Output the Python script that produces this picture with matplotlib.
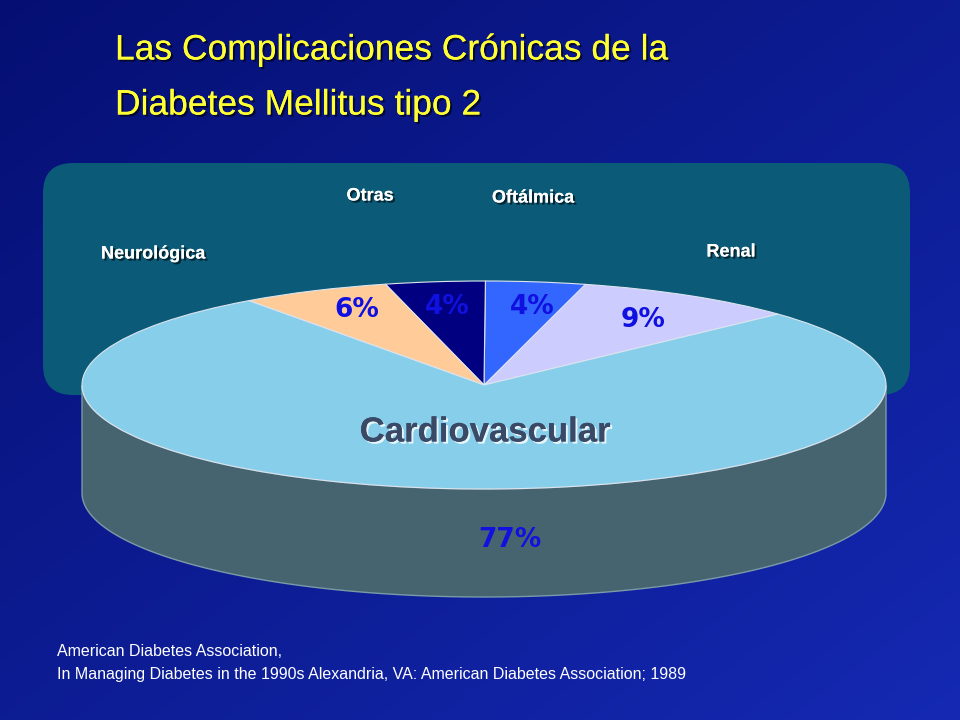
import numpy as np
import matplotlib
matplotlib.use("Agg")
import matplotlib.pyplot as plt
import matplotlib.patheffects as pe
from matplotlib.patches import FancyBboxPatch, Polygon
from matplotlib.transforms import Affine2D

# slices counter-clockwise from the start angle
categories = ["Renal", "Oftálmica", "Otras", "Neurológica", "Cardiovascular"]
values = [9, 4, 4, 6, 77]
pct_labels = ["9%", "4%", "4%", "6%", "77%"]
colors = ["#ccccff", "#3366ff", "#000080", "#ffcc99", "#87ceeb"]

fig = plt.figure(figsize=(9.6, 7.2), dpi=100)
ax = fig.add_axes([0, 0, 1, 1])
ax.set_xlim(0, 960)
ax.set_ylim(720, 0)
ax.axis("off")

# background gradient
yy, xx = np.mgrid[0:720, 0:960]
g = 0.5 * yy / 720 + 0.5 * xx / 960
bg = np.zeros((720, 960, 3))
bg[..., 0] = 0.02 + 0.06 * g
bg[..., 1] = 0.06 + 0.10 * g
bg[..., 2] = 0.45 + 0.25 * g
ax.imshow(bg, extent=(0, 960, 720, 0), zorder=0)

# teal rounded box
box = FancyBboxPatch((43, 163), 867, 232, boxstyle="round,pad=0,rounding_size=30",
                     fc="#0b5a78", ec="none", zorder=1)
ax.add_patch(box)

cx, cy, rx, ry, depth = 484, 385, 402, 104, 108

# side of the cylinder
t = np.linspace(np.pi, 2 * np.pi, 200)
top = np.column_stack([cx + rx * np.cos(t), cy - ry * np.sin(t)])
bot = top[::-1] + [0, depth]
ax.add_patch(Polygon(np.vstack([top, bot]), closed=True, fc="#466470", ec="#7a9aa8", lw=1, zorder=2))

# top face
wedges, _ = ax.pie(values, colors=colors, startangle=43, counterclock=True,
                   wedgeprops=dict(edgecolor="#dde4ee", linewidth=0.8), frame=False)
tr = Affine2D().scale(rx, -ry).translate(cx, cy) + ax.transData
for w in wedges:
    w.set_transform(tr)
    w.set_zorder(3)
ax.set_xlim(0, 960)
ax.set_ylim(720, 0)
ax.set_aspect("auto")

shadow = [pe.withSimplePatchShadow(offset=(1.5, -1.5), shadow_rgbFace="black", alpha=0.6), pe.Normal()]

# title
ax.text(115, 50, "Las Complicaciones Crónicas de la", color="#ffff33", fontsize=25.5,
        family="Liberation Sans", va="center", zorder=5, path_effects=shadow)
ax.text(115, 105, "Diabetes Mellitus tipo 2", color="#ffff33", fontsize=25.5,
        family="Liberation Sans", va="center", zorder=5, path_effects=shadow)

# category labels
lab_pos = {"Renal": (731, 252), "Oftálmica": (533, 198), "Otras": (370, 196),
           "Neurológica": (153, 254)}
for k, (x, y) in lab_pos.items():
    ax.text(x, y, k, color="white", fontsize=13, weight="bold", family="Liberation Sans",
            ha="center", va="center", zorder=5, path_effects=shadow)

# percentages
pct_pos = [(643, 320), (532, 307), (447, 307), (357, 310), (510, 540)]
for s, (x, y) in zip(pct_labels, pct_pos):
    ax.text(x, y, s, color="#1010e0", fontsize=19, weight="bold", family="DejaVu Sans",
            ha="center", va="center", zorder=5)

ax.text(485, 432, "Cardiovascular", color="#3a4a66", fontsize=25, weight="bold",
        family="Liberation Sans", ha="center", va="center", zorder=6,
        path_effects=[pe.withSimplePatchShadow(offset=(1.5, -1.5), shadow_rgbFace="white", alpha=0.8),
                      pe.Normal()])

# source
ax.text(57, 651, "American Diabetes Association,", color="white", fontsize=11.5,
        family="Liberation Sans", va="center", zorder=5)
ax.text(57, 674, "In Managing Diabetes in the 1990s Alexandria, VA: American Diabetes Association; 1989",
        color="white", fontsize=11.5, family="Liberation Sans", va="center", zorder=5)

fig.savefig("out.png", dpi=100)
